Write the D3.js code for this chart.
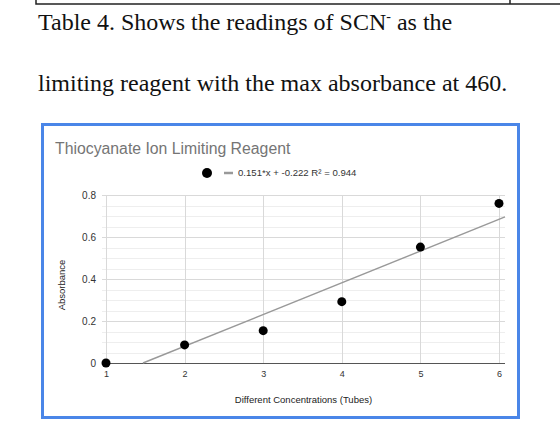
<!DOCTYPE html>
<html>
<head>
<meta charset="utf-8">
<script src="https://cdn.jsdelivr.net/npm/d3@7"></script>
<style>
  body { margin: 0; background: #fff; }
  svg { display: block; }
</style>
</head>
<body>
<svg id="chart" width="560" height="440"></svg>
<script>
// data
const tubes = [1, 2, 3, 4, 5, 6];
const absorbance = [0, 0.086, 0.154, 0.292, 0.552, 0.76];
const yTicks = [0, 0.2, 0.4, 0.6, 0.8];
const trendSlope = 0.151;
const trendIntercept = -0.222;
const legendText = "0.151*x + -0.222 R\u00b2 = 0.944";

const svg = d3.select("#chart");

// table border left over from the document above
svg.append("path")
  .attr("d", "M36,0V4H560M510,0V4")
  .attr("fill", "none")
  .attr("stroke", "#222")
  .attr("stroke-width", 1.5);

// caption in serif
const cap = svg.append("g")
  .attr("font-family", "'Liberation Serif', 'Times New Roman', serif")
  .attr("font-size", 24)
  .attr("fill", "#111");
const l1 = cap.append("text").attr("x", 38).attr("y", 30);
l1.append("tspan").text("Table 4. Shows the readings of SCN");
l1.append("tspan").attr("dy", -9).attr("font-size", 14).text("-");
l1.append("tspan").attr("dy", 9).text(" as the");
cap.append("text").attr("x", 38).attr("y", 91)
  .text("limiting reagent with the max absorbance at 460.");

// chart frame
svg.append("rect")
  .attr("x", 42.5).attr("y", 124.5)
  .attr("width", 476).attr("height", 293)
  .attr("fill", "#fff")
  .attr("stroke", "#4a86e8")
  .attr("stroke-width", 3);

const font = "Arial, 'Liberation Sans', sans-serif";

svg.append("text")
  .attr("x", 55).attr("y", 154)
  .attr("font-family", font).attr("font-size", 15.8)
  .attr("fill", "#757575")
  .text("Thiocyanate Ion Limiting Reagent");

// plot area
const pLeft = 102, pRight = 505, pTop = 195, pBottom = 363;
const x = d3.scaleLinear().domain([1, 6]).range([106, 499]);
const y = d3.scaleLinear().domain([0, 0.8]).range([pBottom, pTop]);

const g = svg.append("g");

// minor grid every 0.05
g.selectAll(".minor")
  .data(d3.range(0.05, 0.8, 0.05).filter(v => Math.abs(v * 5 - Math.round(v * 5)) > 1e-6))
  .enter().append("line")
  .attr("x1", pLeft).attr("x2", pRight)
  .attr("y1", d => Math.round(y(d)) + 0.5).attr("y2", d => Math.round(y(d)) + 0.5)
  .attr("stroke", "#eeeeee");

// major grid
g.selectAll(".major")
  .data(yTicks.slice(1))
  .enter().append("line")
  .attr("x1", pLeft).attr("x2", pRight)
  .attr("y1", d => Math.round(y(d)) + 0.5).attr("y2", d => Math.round(y(d)) + 0.5)
  .attr("stroke", "#d9d9d9");

g.selectAll(".vgrid")
  .data(tubes)
  .enter().append("line")
  .attr("x1", d => Math.round(x(d)) + 0.5).attr("x2", d => Math.round(x(d)) + 0.5)
  .attr("y1", pTop).attr("y2", pBottom)
  .attr("stroke", "#d9d9d9");

// y ticks via axis
const yAxis = g.append("g")
  .attr("transform", "translate(" + (pLeft - 4) + ",0)")
  .call(d3.axisLeft(y).tickValues(yTicks).tickSize(0).tickPadding(2)
    .tickFormat(d => d === 0 ? "0" : d3.format(".1f")(d)));
yAxis.select(".domain").remove();
yAxis.selectAll("text")
  .attr("font-family", font).attr("font-size", 10).attr("fill", "#333");

// x ticks via axis
const xAxis = g.append("g")
  .attr("transform", "translate(0," + (pBottom + 4) + ")")
  .call(d3.axisBottom(x).tickValues(tubes).tickSize(0).tickPadding(4).tickFormat(d3.format("d")));
xAxis.select(".domain").remove();
xAxis.selectAll("text")
  .attr("font-family", font).attr("font-size", 9).attr("fill", "#333");

// baseline
g.append("line")
  .attr("x1", pLeft).attr("x2", pRight)
  .attr("y1", pBottom + 0.5).attr("y2", pBottom + 0.5)
  .attr("stroke", "#555").attr("stroke-width", 1.2);

// trendline, clipped at 0
const xStart = -trendIntercept / trendSlope;
const xEnd = x.invert(pRight);
g.append("line")
  .attr("x1", x(xStart)).attr("y1", y(0))
  .attr("x2", x(xEnd)).attr("y2", y(trendSlope * xEnd + trendIntercept))
  .attr("stroke", "#999").attr("stroke-width", 1.4);

// points
g.selectAll(".pt")
  .data(tubes)
  .enter().append("circle")
  .attr("cx", (d, i) => x(d))
  .attr("cy", (d, i) => y(absorbance[i]))
  .attr("r", 4.5)
  .attr("fill", "#000");

// legend
svg.append("circle").attr("cx", 207).attr("cy", 173).attr("r", 5).attr("fill", "#000");
svg.append("line").attr("x1", 224).attr("x2", 233).attr("y1", 173).attr("y2", 173)
  .attr("stroke", "#999").attr("stroke-width", 2.5);
svg.append("text")
  .attr("x", 238).attr("y", 176)
  .attr("font-family", font).attr("font-size", 9.6)
  .attr("fill", "#333")
  .text(legendText);

// axis titles
svg.append("text")
  .attr("x", (pLeft + pRight) / 2).attr("y", 403)
  .attr("text-anchor", "middle")
  .attr("font-family", font).attr("font-size", 9.5).attr("fill", "#222")
  .text("Different Concentrations (Tubes)");

svg.append("text")
  .attr("transform", "translate(65,285) rotate(-90)")
  .attr("text-anchor", "middle")
  .attr("font-family", font).attr("font-size", 9.5).attr("fill", "#222")
  .text("Absorbance");
</script>
</body>
</html>
